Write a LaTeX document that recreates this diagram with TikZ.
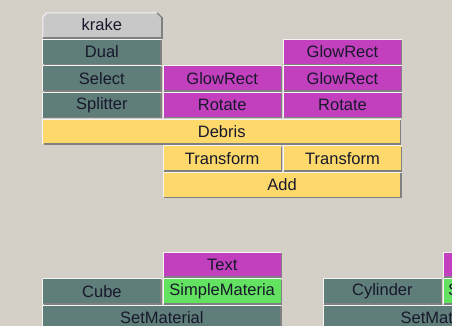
\documentclass[tikz,border=0pt]{standalone}
\usepackage{fontspec}
\setmainfont{Liberation Sans}
\definecolor{bg}{RGB}{212,208,200}
\definecolor{teal0}{RGB}{95,125,121}
\definecolor{mag}{RGB}{194,64,190}
\definecolor{yel}{RGB}{252,217,106}
\definecolor{grn}{RGB}{98,226,96}
\definecolor{kgray}{RGB}{200,200,200}
\definecolor{txt}{RGB}{24,24,44}
\definecolor{hi}{RGB}{245,245,245}
\definecolor{sh}{RGB}{128,128,128}
\tikzset{
  x=1pt, y=-1pt,
  hiline/.style={draw=hi, line width=1pt},
  shline/.style={draw=sh, line width=1.6pt},
  blk/.style={anchor=north west, inner sep=0pt, outer sep=0pt,
    minimum width=#1*119.8pt-1.6pt, minimum height=25pt, text=txt,
    font=\fontsize{16.5}{18}\selectfont,
    append after command={
      (\tikzlastnode.south west) edge[hiline] (\tikzlastnode.north west)
      (\tikzlastnode.north west) edge[hiline] (\tikzlastnode.north east)
      ([yshift=-0.8pt]\tikzlastnode.north east) edge[shline] ([yshift=-0.8pt]\tikzlastnode.south east)
      ([xshift=0.8pt]\tikzlastnode.south east) edge[shline] ([xshift=0.8pt]\tikzlastnode.south west)
    }},
  blk/.default=1,
  tealb/.style={blk=#1, fill=teal0}, tealb/.default=1,
  magb/.style={blk=#1, fill=mag}, magb/.default=1,
  yelb/.style={blk=#1, fill=yel}, yelb/.default=1,
  grnb/.style={blk=#1, fill=grn}, grnb/.default=1,
}
\begin{document}
\begin{tikzpicture}
\useasboundingbox (0,0) rectangle (452,326);
\fill[bg] (0,0) rectangle (452,326);
\clip (0,0) rectangle (452,326);
% krake tab
\node[anchor=north west, inner sep=0pt, outer sep=0pt,
  minimum width=118.2pt, minimum height=24.5pt] (krake) at (42.8,12.8) {};
\fill[kgray] (krake.south west) -- ([yshift=-4pt]krake.north west) -- ([xshift=4pt]krake.north west)
  -- ([xshift=-4pt]krake.north east) -- ([yshift=-4pt]krake.north east) -- (krake.south east) -- cycle;
\draw[hiline] (krake.south west) -- ([yshift=-4pt]krake.north west) -- ([xshift=4pt]krake.north west)
  -- ([xshift=-4pt]krake.north east);
\draw[sh, line width=1.2pt] ([xshift=-4pt]krake.north east) -- ([xshift=0.8pt,yshift=-4.8pt]krake.north east);
\draw[shline] ([xshift=0.8pt,yshift=-4.5pt]krake.north east) -- ([xshift=0.8pt,yshift=-0.8pt]krake.south east) -- ([yshift=-0.8pt]krake.south west);
\node[text=txt, font=\fontsize{16.5}{18}\selectfont] (kraketext) at (krake.center) {krake};
% row 1
\node[tealb] (dual) at (42.8,39.4) {Dual};
\node[magb] (gr3) at (283.4,39.4) {GlowRect};
% row 2
\node[tealb] (select) at (42.8,66) {Select};
\node[magb] (gr2) at (163.1,66) {GlowRect};
\node[magb] (gr3b) at (283.4,66) {GlowRect};
% row 3
\node[tealb] (splitter) at (42.8,92.6) {Splitter};
\node[magb] (rot2) at (163.1,92.6) {Rotate};
\node[magb] (rot3) at (283.4,92.6) {Rotate};
% row 4
\node[yelb=3] (debris) at (42.8,119.2) {Debris};
% row 5
\node[yelb] (tr2) at (163.1,145.8) {Transform};
\node[yelb] (tr3) at (283.4,145.8) {Transform};
% row 6
\node[yelb=2] (add) at (163.1,172.4) {Add};
% lower graphs
\node[magb] (text1) at (163.1,252.2) {Text};
\node[tealb] (cube) at (42.8,278.8) {Cube};
\node[grnb] (simple1) at (163.1,278.8) {SimpleMateria};
\node[tealb=2] (setmat1) at (42.8,305.4) {SetMaterial};
\node[magb] (text2) at (443.5,252.2) {Text};
\node[tealb] (cyl) at (323.3,278.8) {Cylinder};
\node[grnb] (simple2) at (443.5,278.8) {SimpleMaterial};
\node[tealb=2] (setmat2) at (323.3,305.4) {SetMaterial};
\end{tikzpicture}
\end{document}
